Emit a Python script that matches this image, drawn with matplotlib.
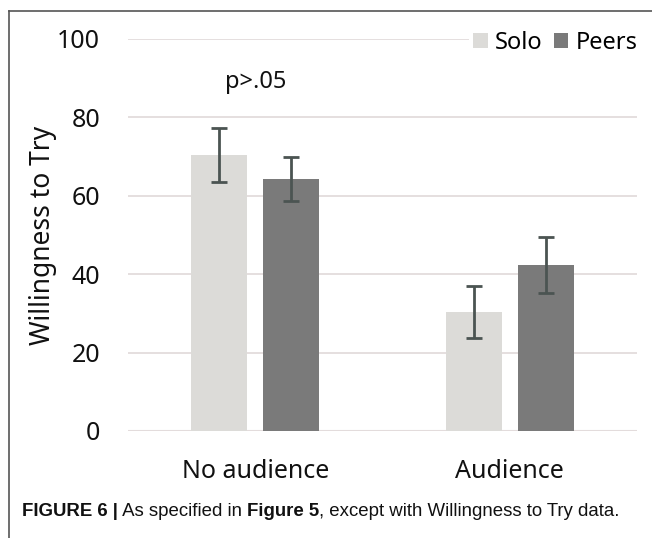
import matplotlib
matplotlib.use('Agg')
import matplotlib.pyplot as plt
from matplotlib.lines import Line2D
import numpy as np

# data
conditions = ['No audience', 'Audience']
groups = ['Solo', 'Peers']
solo_means = [70.5, 30.3]
solo_err = [6.9, 6.7]
peers_means = [64.4, 42.4]
peers_err = [5.6, 7.2]
yticks = [0, 20, 40, 60, 80, 100]

SOLO_COLOR = '#dcdbd8'
PEERS_COLOR = '#7a7a7a'
ERR_COLOR = '#4b5452'
GRID_COLOR = '#e3dcdc'
FONT = 'Noto Sans'

fig = plt.figure(figsize=(6.52, 5.38), dpi=100)
ax = fig.add_axes([128 / 652, 1 - 431 / 538, 509 / 652, 392 / 538])

x = np.arange(len(conditions))
width = 0.22
offset = 0.1415

b1 = ax.bar(x - offset, solo_means, width, color=SOLO_COLOR, label=groups[0], zorder=2)
b2 = ax.bar(x + offset, peers_means, width, color=PEERS_COLOR, label=groups[1], zorder=2)
ax.errorbar(x - offset, solo_means, yerr=solo_err, fmt='none', ecolor=ERR_COLOR,
            elinewidth=2, capsize=5.5, capthick=2, zorder=3)
ax.errorbar(x + offset, peers_means, yerr=peers_err, fmt='none', ecolor=ERR_COLOR,
            elinewidth=2, capsize=5.5, capthick=2, zorder=3)

ax.set_xlim(-0.5, 1.5)
ax.set_ylim(0, 100)
ax.set_yticks(yticks)
ax.set_yticklabels([str(t) for t in yticks], fontsize=18, family=FONT)
ax.set_xticks(x)
ax.set_xticklabels(conditions, fontsize=18, family=FONT)
ax.tick_params(axis='y', length=0, pad=20, colors='#111111')
ax.tick_params(axis='x', length=0, pad=20, colors='#111111')
ax.yaxis.grid(True, color=GRID_COLOR, linewidth=1.3, zorder=0)
ax.set_axisbelow(True)
for s in ax.spines.values():
    s.set_visible(False)
ax.axhline(0, color=GRID_COLOR, linewidth=1.5, zorder=1)

ax.set_ylabel('Willingness to Try', fontsize=19, family=FONT, labelpad=0, color='#111111')

ax.text(0, 89, 'p>.05', ha='center', va='center', fontsize=17, family=FONT, color='#111111')

leg = ax.legend(handles=[b1, b2], loc='center right', bbox_to_anchor=(1.01, 0.99),
                ncol=2, frameon=True, handlelength=0.6, handleheight=0.6,
                handletextpad=0.3, columnspacing=0.5, borderpad=0.2, borderaxespad=0,
                prop={'family': FONT, 'size': 17})
leg.get_frame().set_facecolor('white')
leg.get_frame().set_edgecolor('none')
leg.get_frame().set_alpha(1)

# page frame (left and top rules)
fig.add_artist(Line2D([9 / 652, 9 / 652], [0, 1 - 11 / 538], color='#555555', linewidth=1.2))
fig.add_artist(Line2D([9 / 652, 1], [1 - 11 / 538, 1 - 11 / 538], color='#555555', linewidth=1.2))

# caption built from bold and plain pieces
caption = [('FIGURE 6 |', 'bold'), (' As specified in ', 'normal'),
           ('Figure 5', 'bold'), (', except with Willingness to Try data.', 'normal')]
renderer = fig.canvas.get_renderer()
xpos = 22 / 652
ypos = 1 - 511 / 538
for txt, weight in caption:
    t = fig.text(xpos, ypos, txt, fontsize=13.4, fontweight=weight, family='Liberation Sans',
                 ha='left', va='center', color='#111111')
    bb = t.get_window_extent(renderer=renderer)
    xpos += bb.width / fig.bbox.width

fig.savefig('out.png', dpi=100)
